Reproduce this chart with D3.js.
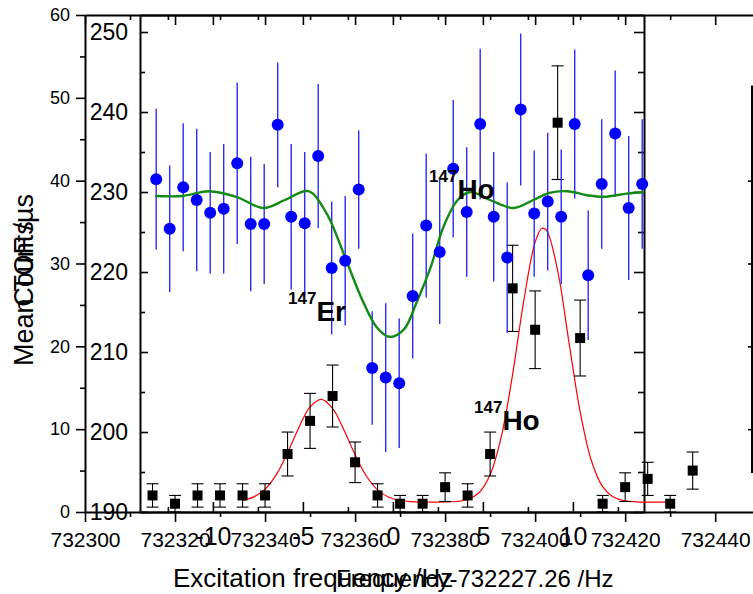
<!DOCTYPE html>
<html>
<head>
<meta charset="utf-8">
<script src="https://cdn.jsdelivr.net/npm/d3@7/dist/d3.min.js"></script>
<style>
    body { margin: 0; background: #fff; }
    svg { font-family: "Liberation Sans", Arial, sans-serif; }
    .axis .domain { stroke: #000; stroke-width: 2; }
    .axis line { stroke: #000; stroke-width: 1.6; }
</style>
</head>
<body>
<div id="chart"></div>
<script>
// counts vs excitation frequency (black squares)
var countFreq = [732315, 732320, 732325, 732330, 732335, 732340, 732345, 732350, 732355, 732360,
                 732365, 732370, 732375, 732380, 732385, 732390, 732395, 732400, 732405, 732410,
                 732415, 732420, 732425, 732430, 732435];
var counts    = [2, 1, 2, 2, 2, 2, 7, 11, 14, 6, 2, 1, 1, 3, 2, 7, 27, 22, 47, 21, 1, 3, 4, 1, 5];
var countErr  = [1.41, 1, 1.41, 1.41, 1.41, 1.41, 2.65, 3.32, 3.74, 2.45, 1.41, 1, 1, 1.73, 1.41,
                 2.65, 5.2, 4.69, 6.86, 4.58, 1, 1.73, 2, 1, 2.24];

// red fit through the counts
var countFitFreq = [732335, 732337.5, 732340, 732342.5, 732345, 732347.5, 732350, 732352.5, 732355,
                    732357.5, 732360, 732362.5, 732365, 732367.5, 732370, 732372.5, 732375, 732377.5,
                    732380, 732382.5, 732385, 732387.5, 732390, 732392.5, 732395, 732397.5, 732400,
                    732401.5, 732402.5, 732405, 732407.5, 732410, 732412.5, 732415, 732417.5, 732420,
                    732422.5, 732425, 732427.5, 732430];
var countFit = [1.41, 1.83, 2.76, 4.52, 7.14, 10.18, 12.68, 13.6, 12.52, 9.94, 6.91, 4.35, 2.67, 1.78,
                1.39, 1.25, 1.21, 1.2, 1.21, 1.27, 1.51, 2.33, 4.51, 9.13, 16.62, 25.58, 32.57, 34.26,
                34.03, 29.15, 20.54, 12.1, 6.19, 3.06, 1.77, 1.34, 1.23, 1.2, 1.2, 1.2];

// mean TOF vs frequency offset (blue dots)
var tofFreq = [-13.15, -12.4, -11.65, -10.9, -10.15, -9.4, -8.65, -7.9, -7.15, -6.4, -5.65, -4.9,
               -4.15, -3.4, -2.65, -1.9, -1.15, -0.4, 0.35, 1.1, 1.85, 2.6, 3.35, 4.1, 4.85, 5.6,
               6.35, 7.1, 7.85, 8.6, 9.35, 10.1, 10.85, 11.6, 12.35, 13.1, 13.85];
var tofMean = [231.6, 225.4, 230.6, 229.0, 227.4, 227.9, 233.6, 226.0, 226.0, 238.4, 226.9, 226.1,
               234.5, 220.5, 221.4, 230.3, 208.0, 206.8, 206.1, 217.0, 225.8, 222.5, 232.9, 227.5,
               238.5, 226.9, 221.8, 240.3, 227.3, 228.8, 226.9, 238.5, 219.6, 231.0, 237.3, 228.0, 231.0];
var tofErr  = [8.8, 7.9, 8.0, 8.9, 7.6, 8.1, 10.1, 8.4, 7.5, 7.8, 9.1, 8.9, 9.0, 8.3, 8.1, 7.4, 7.1,
               9.3, 8.1, 7.8, 9.0, 9.0, 8.6, 8.1, 9.4, 8.1, 9.4, 9.5, 7.9, 8.6, 8.4, 9.3, 8.1, 8.1,
               7.9, 9.0, 8.1];

// green resonance fit
var tofFitFreq = [-13.2, -11.7, -10.2, -8.7, -7.2, -6.0, -4.7, -3.7, -2.6, -1.7, -0.9, -0.2, 0.6, 1.3,
                  2.1, 2.8, 3.6, 4.3, 5.4, 6.7, 7.8, 8.7, 9.7, 10.8, 11.7, 13.0, 13.95];
var tofFit = [229.5, 229.5, 230.1, 229.4, 228.0, 229.0, 230.1, 227.4, 221.5, 216.5, 213.1, 211.9,
              212.8, 216.1, 220.6, 225.6, 229.0, 230.0, 229.0, 228.0, 229.0, 229.9, 230.1, 229.6,
              229.4, 229.8, 230.0];

var countTicks = [0, 10, 20, 30, 40, 50, 60];
var freqTicks = [732300, 732320, 732340, 732360, 732380, 732400, 732420, 732440];
var tofTicks = [190, 200, 210, 220, 230, 240, 250];
var offsetTicks = [-10, -5, 0, 5, 10];

var width = 753,
    height = 594;

var svg = d3.select('#chart').append('svg')
    .attr('width', width)
    .attr('height', height);

// scales of the two overlaid graphs
var xA = d3.scaleLinear().domain([732300, 732448.4]).range([85, 753]);
var yA = d3.scaleLinear().domain([0, 60]).range([512, 15]);
var xB = d3.scaleLinear().domain([-14.05, 13.95]).range([140, 644]);
var yB = d3.scaleLinear().domain([190, 252.125]).range([512, 15]);

function addAxis(axis, tx, ty, keepDomain) {
    var g = svg.append('g')
        .attr('class', 'axis')
        .attr('transform', 'translate(' + tx + ',' + ty + ')')
        .call(axis);
    if (!keepDomain) g.select('.domain').remove();
    return g;
}

// ---- counts graph axes
var gAy = addAxis(d3.axisLeft(yA).tickValues(countTicks).tickSize(9).tickPadding(6).tickSizeOuter(0), 85, 0, true);
gAy.selectAll('text').attr('font-size', 18).attr('fill', '#000');
addAxis(d3.axisLeft(yA).tickValues([5, 15, 25, 35, 45, 55]).tickSize(5).tickFormat(''), 85, 0);

var gAx = addAxis(d3.axisBottom(xA).tickValues(freqTicks).tickSize(10).tickPadding(10).tickSizeOuter(0)
    .tickFormat(d3.format('d')), 0, 512, true);
gAx.selectAll('text').attr('font-size', 21).attr('fill', '#000');
addAxis(d3.axisBottom(xA).tickValues([732310, 732330, 732350, 732370, 732390, 732410, 732430]).tickSize(5).tickFormat(''), 0, 512);

addAxis(d3.axisBottom(xA).tickValues(freqTicks).tickSize(10).tickSizeOuter(0).tickFormat(''), 0, 15, true);
addAxis(d3.axisBottom(xA).tickValues([732310, 732330, 732350, 732370, 732390, 732410, 732430]).tickSize(5).tickFormat(''), 0, 15);

// partly hidden right axis of the counts graph
svg.append('line')
    .attr('x1', 752).attr('x2', 752)
    .attr('y1', yA(4.7)).attr('y2', yA(51.5))
    .attr('stroke', '#000').attr('stroke-width', 2);
addAxis(d3.axisLeft(yA).tickValues([10, 20, 30, 40]).tickSize(4).tickFormat(''), 752, 0);

// ---- TOF graph axes
var gBy = addAxis(d3.axisLeft(yB).tickValues(tofTicks).tickSizeInner(-8).tickSizeOuter(0).tickPadding(12), 140, 0, true);
gBy.selectAll('text').attr('font-size', 23).attr('fill', '#000');
addAxis(d3.axisLeft(yB).tickValues([195, 205, 215, 225, 235, 245]).tickSizeInner(-5).tickFormat(''), 140, 0);

addAxis(d3.axisRight(yB).tickValues(tofTicks).tickSizeInner(-10).tickSizeOuter(0).tickFormat(''), 644, 0, true);
addAxis(d3.axisRight(yB).tickValues([195, 205, 215, 225, 235, 245]).tickSizeInner(-6).tickFormat(''), 644, 0);

var gBx = addAxis(d3.axisBottom(xB).tickValues(offsetTicks).tickSizeInner(-10).tickSizeOuter(0).tickPadding(15)
    .tickFormat(function(d) { return String(d); }), 0, 512, true);
gBx.selectAll('text').attr('font-size', 25).attr('fill', '#000');
addAxis(d3.axisBottom(xB).tickValues([-12.5, -7.5, -2.5, 2.5, 7.5, 12.5]).tickSizeInner(-5).tickFormat(''), 0, 512);

addAxis(d3.axisTop(xB).tickValues(offsetTicks).tickSizeInner(-10).tickSizeOuter(0).tickFormat(''), 0, 15, true);
addAxis(d3.axisTop(xB).tickValues([-12.5, -7.5, -2.5, 2.5, 7.5, 12.5]).tickSizeInner(-5).tickFormat(''), 0, 15);

// ---- axis titles
svg.append('text')
    .attr('x', 173).attr('y', 587)
    .attr('font-size', 26)
    .text('Excitation frequency /Hz');
svg.append('text')
    .attr('x', 336).attr('y', 587)
    .attr('font-size', 24)
    .text('Frequency-732227.26 /Hz');
svg.append('text')
    .attr('transform', 'translate(33,264) rotate(-90)')
    .attr('text-anchor', 'middle')
    .attr('font-size', 27)
    .text('Counts');
svg.append('text')
    .attr('transform', 'translate(33,280) rotate(-90)')
    .attr('text-anchor', 'middle')
    .attr('font-size', 27)
    .text('Mean TOF /\u00b5s');

// ---- counts data
var countData = countFreq.map(function(f, i) {
    return { f: f, c: counts[i], e: countErr[i] };
});

var gA = svg.append('g');
gA.append('path')
    .datum(countFitFreq.map(function(f, i) { return [f, countFit[i]]; }))
    .attr('fill', 'none')
    .attr('stroke', 'red')
    .attr('stroke-width', 1.2)
    .attr('d', d3.line()
        .x(function(d) { return xA(d[0]); })
        .y(function(d) { return yA(d[1]); })
        .curve(d3.curveCatmullRom));

var bars = gA.selectAll('.cbar')
    .data(countData)
    .enter().append('g')
    .attr('class', 'cbar')
    .attr('stroke', '#000')
    .attr('stroke-width', 1.1);
bars.append('line')
    .attr('x1', function(d) { return xA(d.f); })
    .attr('x2', function(d) { return xA(d.f); })
    .attr('y1', function(d) { return yA(d.c + d.e); })
    .attr('y2', function(d) { return yA(Math.max(0, d.c - d.e)); });
bars.append('line')
    .attr('x1', function(d) { return xA(d.f) - 6; })
    .attr('x2', function(d) { return xA(d.f) + 6; })
    .attr('y1', function(d) { return yA(d.c + d.e); })
    .attr('y2', function(d) { return yA(d.c + d.e); });
bars.append('line')
    .attr('x1', function(d) { return xA(d.f) - 6; })
    .attr('x2', function(d) { return xA(d.f) + 6; })
    .attr('y1', function(d) { return yA(Math.max(0, d.c - d.e)); })
    .attr('y2', function(d) { return yA(Math.max(0, d.c - d.e)); });

gA.selectAll('.sq')
    .data(countData)
    .enter().append('rect')
    .attr('class', 'sq')
    .attr('x', function(d) { return xA(d.f) - 5; })
    .attr('y', function(d) { return yA(d.c) - 5; })
    .attr('width', 10)
    .attr('height', 10)
    .attr('fill', '#000');

// ---- TOF data
var tofData = tofFreq.map(function(f, i) {
    return { f: f, t: tofMean[i], e: tofErr[i] };
});

var gB = svg.append('g');
gB.selectAll('.tbar')
    .data(tofData)
    .enter().append('line')
    .attr('class', 'tbar')
    .attr('x1', function(d) { return xB(d.f); })
    .attr('x2', function(d) { return xB(d.f); })
    .attr('y1', function(d) { return yB(d.t + d.e); })
    .attr('y2', function(d) { return yB(d.t - d.e); })
    .attr('stroke', '#2b2bff')
    .attr('stroke-width', 1.4);

gB.append('path')
    .datum(tofFitFreq.map(function(f, i) { return [f, tofFit[i]]; }))
    .attr('fill', 'none')
    .attr('stroke', '#138a13')
    .attr('stroke-width', 2.4)
    .attr('d', d3.line()
        .x(function(d) { return xB(d[0]); })
        .y(function(d) { return yB(d[1]); })
        .curve(d3.curveCatmullRom));

gB.selectAll('.dot')
    .data(tofData)
    .enter().append('circle')
    .attr('class', 'dot')
    .attr('cx', function(d) { return xB(d.f); })
    .attr('cy', function(d) { return yB(d.t); })
    .attr('r', 6)
    .attr('fill', '#0000ff');

// ---- isotope labels
function isotope(x, y, name) {
    var t = svg.append('text')
        .attr('x', x).attr('y', y)
        .attr('font-weight', 'bold')
        .attr('font-size', 28);
    t.append('tspan').attr('font-size', 17).attr('dy', -17).text('147');
    t.append('tspan').attr('dy', 17).text(name);
}
isotope(288, 321, 'Er');
isotope(429, 199, 'Ho');
isotope(474, 430, 'Ho');
</script>
</body>
</html>
